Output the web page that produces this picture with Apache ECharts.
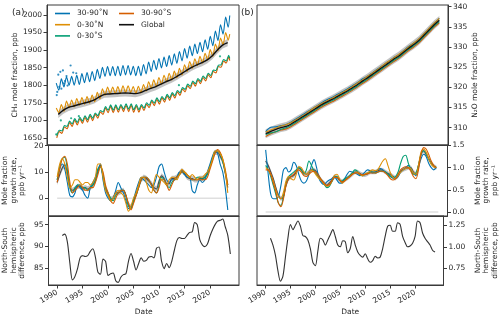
<!DOCTYPE html>
<html><head><meta charset="utf-8">
<script src="https://cdn.jsdelivr.net/npm/echarts@6/dist/echarts.min.js"></script>
<style>html,body{margin:0;padding:0;background:#fff}#c{width:500px;height:319px}</style>
</head><body><div id="c"></div>
<script>
// ---------------- DATA ----------------
const seriesNames = ['30-90˚N', '0-30˚N', '0-30˚S', '30-90˚S', 'Global'];
const xTickLabels = [1990, 1995, 2000, 2005, 2010, 2015, 2020];
const ch4Ticks = [1650, 1700, 1750, 1800, 1850, 1900, 1950, 2000];
const n2oTicks = [310, 315, 320, 325, 330, 335, 340];
const ch4GrTicks = [0, 10, 20];
const n2oGrTicks = [0, 0.5, 1.0, 1.5];
const ch4NsTicks = [85, 90, 95];
const n2oNsTicks = [0.75, 1.0, 1.25];

// CH4 mole fraction: yearly seasonal maxima / minima, 1990..2023
const ch4Years = [1990,1991,1992,1993,1994,1995,1996,1997,1998,1999,2000,2001,2002,2003,2004,2005,2006,2007,2008,2009,2010,2011,2012,2013,2014,2015,2016,2017,2018,2019,2020,2021,2022,2023];
const ch4_N_hi = [1806,1818,1824,1825,1828,1833,1836,1839,1845,1851,1853,1853,1854,1856,1856,1854,1854,1859,1866,1871,1876,1880,1884,1889,1896,1904,1911,1917,1922,1929,1939,1954,1972,1994];
const ch4_N_lo = [1786,1795,1800,1800,1802,1807,1810,1813,1819,1825,1827,1827,1827,1829,1829,1827,1827,1832,1839,1844,1849,1853,1857,1862,1869,1877,1884,1890,1895,1902,1912,1927,1945,1965];
const ch4_NT_hi = [1735,1745,1755,1758,1762,1765,1768,1772,1780,1790,1795,1795,1796,1798,1798,1796,1797,1802,1810,1815,1822,1828,1834,1840,1848,1858,1867,1875,1882,1891,1901,1917,1934,1950];
const ch4_NT_lo = [1722,1726,1736,1739,1743,1746,1749,1753,1761,1771,1776,1776,1777,1779,1779,1777,1778,1783,1791,1796,1803,1809,1815,1821,1829,1839,1848,1856,1863,1872,1882,1898,1915,1928];
const ch4_ST_lo = [1657,1670,1683,1690,1694,1698,1702,1706,1713,1724,1729,1729,1730,1732,1732,1730,1730,1735,1743,1749,1753,1759,1764,1770,1778,1788,1797,1804,1811,1819,1828,1842,1858,1869];
const ch4_ST_hi = [1672,1685,1698,1705,1709,1713,1717,1721,1728,1739,1744,1744,1745,1747,1747,1745,1745,1750,1758,1764,1768,1774,1779,1785,1793,1803,1812,1819,1826,1834,1843,1857,1873,1885];
const ch4_S_lo = [1650,1663,1676,1683,1687,1691,1695,1699,1706,1717,1722,1722,1723,1725,1725,1723,1723,1728,1736,1742,1746,1752,1757,1763,1771,1781,1790,1797,1804,1812,1821,1835,1851,1863];
const ch4_S_hi = [1668,1681,1694,1701,1705,1709,1713,1717,1724,1735,1740,1740,1741,1743,1743,1741,1741,1746,1754,1760,1764,1770,1775,1781,1789,1799,1808,1815,1822,1830,1839,1853,1869,1881];
const ch4_end = {N: 1998, NT: 1945, ST: 1876, S: 1870};
// CH4 global (mid-year values)
const ch4_glob = [1717,1729,1737,1741,1745,1749,1753,1758,1767,1774,1775,1776,1777,1778,1777,1776,1779,1785,1791,1796,1803,1810,1816,1824,1833,1842,1851,1858,1864,1872,1884,1900,1914,1921];
const ch4_glob_unc = 10;
// scattered CH4 observations
const ch4_obs_N = [[1990.2,1772],[1990.3,1781],[1990.5,1830],[1990.7,1795],[1990.9,1838],[1991.1,1790],[1991.4,1842],[1991.6,1805],[1991.8,1812],[1992.1,1826],[1992.3,1799],[1992.9,1856],[1993.4,1836],[1994.0,1834]];
const ch4_obs_ST = [[1990.1,1660],[1991.0,1700],[1993.0,1706],[1994.5,1712],[2014.0,1800],[2022.0,1882]];

// N2O mole fraction, yearly 1990..2024
const n2oYears = [1990,1991,1992,1993,1994,1995,1996,1997,1998,1999,2000,2001,2002,2003,2004,2005,2006,2007,2008,2009,2010,2011,2012,2013,2014,2015,2016,2017,2018,2019,2020,2021,2022,2023,2024];
const n2o_glob = [308.5,309.1,309.6,310.0,310.3,310.9,311.7,312.5,313.3,314.1,314.9,315.7,316.4,317.0,317.7,318.4,319.1,319.9,320.7,321.6,322.4,323.3,324.2,325.1,326.0,326.9,327.7,328.7,329.7,330.6,331.6,332.9,334.2,335.5,336.6];
const n2o_N = [309.0,310.1,310.2,310.5,310.8,311.4,312.2,313.0,313.8,314.6,315.4,316.2,316.9,317.5,318.2,318.9,319.6,320.4,321.2,322.1,322.8,323.7,324.6,325.5,326.4,327.3,328.1,329.1,330.1,331.0,332.0,333.3,334.6,335.9,337.1];
const n2o_NT = [308.9,309.4,309.9,310.4,310.7,311.3,312.0,312.8,313.6,314.5,315.3,316.0,316.7,317.3,318.0,318.7,319.4,320.2,321.1,321.9,322.8,323.6,324.5,325.5,326.4,327.2,328.1,329.0,330.0,331.0,332.0,333.3,334.6,335.9,337.1];
const n2o_ST = [308.3,308.7,309.0,309.6,310.0,310.6,311.4,312.2,313.0,313.8,314.6,315.4,316.1,316.7,317.4,318.1,318.8,319.6,320.4,321.3,322.1,323.0,323.9,324.8,325.7,326.6,327.4,328.4,329.4,330.3,331.3,332.6,333.9,335.2,336.3];
const n2o_S = [307.8,308.5,309.0,309.4,309.7,310.3,311.1,311.9,312.7,313.5,314.3,315.1,315.8,316.4,317.1,317.8,318.5,319.3,320.1,321.0,321.8,322.7,323.6,324.5,325.4,326.3,327.1,328.1,329.1,330.0,331.0,332.3,333.6,334.9,336.0];
const n2o_glob_unc = 1.1;

// Growth rates, half-yearly from 1990.0 to 2023.5
const grStart = 1990.0, grStep = 0.5;
const ch4gr_glob = [6.0,9.0,11.5,12.7,9.5,4.0,3.0,3.5,4.5,4.5, 3.5,4.0,3.5,4.0,5.0,6.5,10.0,12.5,8.5,3.5, 1.5,-0.5,0.0,2.0,2.0,2.5,3.0,1.0,-2.5,-3.5, -1.0,1.5,4.5,7.0,8.0,7.5,6.5,5.5,4.0,3.5, 6.5,8.5,7.5,5.5,5.5,7.5,7.5,8.0,9.5,10.5, 9.5,8.0,7.5,7.5,7.0,7.0,7.5,7.5,8.0,9.5, 12.0,15.0,17.5,17.5,16.0,14.0,9.5,4.0];
const ch4gr_N = [7,11,13,11,6,1,0.5,2,5,4, 3,1,0,4,6,8,11,13,7,2, 0,-1,0,3,6,4,2,-1,-4,-3.5, -0.5,3,6,8,7,6,5,4,5,8, 12,13,10,7,6,7,7,8,10,10, 9,8,8,3,2,5,7,6,7,10, 13,16,18,17,13,10,4,-4.5];
const ch4gr_NT = [8,13,15,13,8,4,5,7,7,6, 5,6,6,5,6,8,13,13,8,3, 1,-1,0,2,3,2,1,-2,-5,-3, 0,2,5,8,8,6,3,2,6,9, 8,7,6,5,7,8,8,7,9,11, 10,9,8,9,8,7,8,8,9,10, 12,15,18,18,17,15,10,2];
const ch4gr_ST = [7,12,15,15.5,11,4,2,4,5,5, 4,4,3,4,5,7,11,12,9,4, 2,0,-1,1,2,3,3,1,-3,-4, -1,1,4,7,8,8,7,5,3,2, 5,8,7,5,4,6,7,8,9,10, 10,9,8,7,7,8,8,7,8,9, 12,15,17.5,18,17,14,10,5];
const ch4gr_S = [6,11,15,16,13,6,2,3,4,5, 4,3,3,4,4,6,9,12,10,5, 2,-1,-2,0,2,3,3,1,-2,-4.5, -2,1,4,7,8,8,7,5,3,2, 4,7,7,5,3,5,7,8,9,10, 10,9,8,7,7,7,7,7,7,8, 11,14,17,18.5,17.5,15,11,5];
const ch4gr_unc = 1.0;
const n2ogr_glob = [1.15,1.05,0.9,0.75,0.55,0.38,0.3,0.35,0.6,0.75, 0.8,0.82,0.9,1.0,0.95,0.88,0.85,0.9,0.95,0.95, 0.9,0.8,0.7,0.65,0.6,0.65,0.72,0.8,0.78,0.72, 0.68,0.72,0.76,0.8,0.85,0.9,0.9,0.87,0.84,0.84, 0.86,0.9,0.9,0.9,0.93,0.95,0.94,0.9,0.87,0.84, 0.8,0.76,0.82,0.92,0.96,0.98,1.0,1.0,0.9,0.85, 1.05,1.3,1.38,1.3,1.2,1.1,1.03,1.0];
const n2ogr_N = [1.4,0.85,0.4,0.3,0.3,0.35,0.6,0.95,1.0,0.9, 0.95,1.12,1.05,0.85,0.7,0.65,0.7,0.85,1.05,1.18, 1.0,0.75,0.65,0.62,0.68,0.72,0.75,0.8,0.72,0.65, 0.66,0.75,0.85,0.92,0.9,0.88,0.85,0.82,0.85,0.9, 0.95,0.93,0.88,0.9,0.95,0.98,0.95,0.9,0.85,0.8, 0.76,0.75,0.8,0.9,0.95,1.0,1.05,0.98,0.88,0.82, 1.0,1.2,1.3,1.25,1.1,1.0,0.95,1.0];
const n2ogr_NT = [1.0,0.95,0.85,0.7,0.5,0.35,0.3,0.45,0.7,0.8, 0.75,0.72,0.85,1.02,1.0,0.9,0.85,0.9,0.95,0.9, 0.82,0.75,0.7,0.62,0.58,0.6,0.7,0.82,0.85,0.75, 0.65,0.7,0.75,0.8,0.85,0.88,0.9,0.85,0.82,0.85, 0.88,0.92,0.95,0.93,0.95,1.05,1.15,1.2,1.05,0.88, 0.78,0.75,0.82,0.9,0.95,0.98,1.0,0.98,0.88,0.85, 1.05,1.35,1.42,1.35,1.2,1.08,1.02,1.0];
const n2ogr_ST = [1.05,0.95,0.8,0.6,0.4,0.2,0.15,0.35,0.65,0.8, 0.85,0.9,0.95,1.0,0.95,0.85,0.95,1.15,1.05,0.92, 0.85,0.78,0.72,0.62,0.55,0.58,0.68,0.78,0.8,0.72, 0.7,0.75,0.78,0.82,0.88,0.95,0.92,0.85,0.82,0.85, 0.88,0.9,0.9,0.88,0.9,0.92,0.92,0.9,0.85,0.8, 0.78,0.8,0.9,1.1,1.25,1.28,1.1,0.95,0.85,0.88, 1.05,1.3,1.38,1.32,1.2,1.1,1.03,1.02];
const n2ogr_S = [0.95,0.95,0.85,0.65,0.45,0.2,0.12,0.3,0.6,0.75, 0.8,0.85,0.92,0.95,0.9,0.82,0.8,0.85,0.9,0.92, 0.88,0.8,0.72,0.65,0.6,0.62,0.7,0.78,0.78,0.72, 0.68,0.7,0.75,0.8,0.85,0.88,0.88,0.85,0.84,0.85, 0.86,0.88,0.88,0.88,0.9,0.92,0.92,0.88,0.82,0.75, 0.72,0.75,0.85,0.95,1.0,1.02,1.0,0.92,0.8,0.75, 0.95,1.3,1.45,1.42,1.3,1.15,1.05,1.0];
const n2ogr_unc = 0.05;

// North-South differences, half-yearly from 1991.0 to 2024.0
const nsStart = 1991.0, nsStep = 0.5;
const ch4_ns = [92.5,92.8,91.0,86.0,82.2,83.0,84.8,87.3,87.8,87.6, 87.8,88.8,89.4,87.5,84.0,83.5,87.0,86.5,83.2,83.6, 83.8,82.0,81.6,82.8,83.4,83.6,86.5,88.3,86.5,84.5, 86.0,87.3,86.5,86.7,87.5,87.6,87.3,89.5,89.8,86.5, 84.8,86.0,85.0,86.5,89.0,91.3,92.0,91.8,91.8,92.5, 93.2,93.3,95.5,95.0,91.5,90.3,89.9,90.5,92.3,93.8, 95.0,95.8,96.0,96.3,94.5,92.5,88.2];
const n2o_ns = [1.10,1.02,0.90,0.72,0.60,0.66,0.88,1.10,1.26,1.20, 1.25,1.30,1.24,1.13,1.12,1.08,0.98,0.82,0.78,0.95, 1.10,1.08,1.02,1.08,1.14,1.20,1.12,1.02,1.00,1.07, 1.06,0.93,0.98,1.12,1.02,0.94,0.90,0.88,0.92,0.86, 0.82,0.84,0.89,0.87,0.88,0.98,1.12,1.24,1.25,1.18, 1.18,1.28,1.26,1.12,1.05,1.00,1.01,1.04,1.12,1.30, 1.28,1.16,1.10,1.06,1.02,0.96,0.94];
const zeroLineX = [1990.0, 2023.9];

// ---------------- BUILD ----------------
const C = {N: '#0173B2', NT: '#DE8F05', ST: '#029E73', S: '#D55E00', G: '#111111'};
const FONT = 'DejaVu Sans', TXT = '#262626', AX = '#3a3a3a', FS = 7.5;
const X_MIN = 1988.3, X_MAX = 2025.7;

function halfYear(start, step, vals) { return vals.map((v, i) => [start + i * step, v]); }
function seasonal(years, first, second, o1, o2, endVal) {
  const out = [];
  years.forEach((y, i) => { out.push([y + o1, first[i]]); out.push([y + o2, second[i]]); });
  out.push([2023.9, endVal]);
  return out;
}
function pairs(xs, vals, off) { return vals.map((v, i) => [xs[i] + (off || 0), v]); }
function bandData(pts, unc) { return pts.map(p => [p[0], p[1] - unc, p[1] + unc]); }

const grids = [
  {left: 47, top: 5, width: 192, height: 140},
  {left: 47, top: 145, width: 192, height: 71},
  {left: 47, top: 216, width: 192, height: 69},
  {left: 257, top: 5, width: 191, height: 140},
  {left: 257, top: 145, width: 191, height: 71},
  {left: 257, top: 216, width: 191, height: 69}
].map(g => Object.assign(g, {show: true, borderColor: AX, borderWidth: 1, backgroundColor: 'transparent'}));

const xAxes = grids.map((g, i) => {
  const bottom = (i === 2 || i === 5);
  return {
    type: 'value', gridIndex: i, min: X_MIN, max: X_MAX,
    axisLine: {show: true, onZero: false, lineStyle: {color: AX, width: 1}},
    splitLine: {show: false},
    axisTick: {show: bottom, length: 3.5, lineStyle: {color: AX}, customValues: xTickLabels},
    axisLabel: {show: bottom, rotate: 30, margin: 7, fontFamily: FONT, fontSize: FS, color: TXT,
      customValues: xTickLabels, formatter: v => String(Math.round(v))},
    name: bottom ? 'Date' : '', nameLocation: 'middle', nameGap: 23,
    nameTextStyle: {fontFamily: FONT, fontSize: FS, color: TXT}
  };
});

function yAx(i, min, max, ticks, fmt, name, gap, right) {
  return {
    type: 'value', gridIndex: i, min: min, max: max, position: right ? 'right' : 'left',
    axisLine: {show: true, onZero: false, lineStyle: {color: AX, width: 1}},
    splitLine: {show: false},
    axisTick: {show: true, length: 3.5, lineStyle: {color: AX}, customValues: ticks},
    axisLabel: {show: true, margin: 5, fontFamily: FONT, fontSize: FS, color: TXT, customValues: ticks, formatter: fmt},
    name: name, nameLocation: 'middle', nameGap: gap, nameRotate: 90,
    nameTextStyle: {fontFamily: FONT, fontSize: FS, color: TXT, lineHeight: 8.5, align: 'center'}
  };
}
const f0 = v => String(Math.round(v));
const f1 = v => v.toFixed(1);
const f2 = v => v.toFixed(2);
const yAxes = [
  yAx(0, 1630, 2028, ch4Ticks, f0, 'CH₄ mole fraction, ppb', 27, false),
  yAx(1, -6.8, 20.27, ch4GrTicks, f0, 'Mole fraction\ngrowth rate,\nppb yr⁻¹', 22, false),
  yAx(2, 81.0, 97.0, ch4NsTicks, f0, 'North-South\nhemispheric\ndifference, ppb', 22, false),
  yAx(3, 305.7, 340.4, n2oTicks, f0, 'N₂O mole fraction, ppb', 19, true),
  yAx(4, -0.09, 1.51, n2oGrTicks, f1, 'Mole fraction\ngrowth rate,\nppb yr⁻¹', 26, true),
  yAx(5, 0.556, 1.358, n2oNsTicks, f2, 'North-South\nhemispheric\ndifference, ppb', 30, true)
];

function band(idx, pts, unc, z) {
  return {
    type: 'custom', name: 'band' + idx, xAxisIndex: idx, yAxisIndex: idx, z: z || 1,
    silent: true, data: bandData(pts, unc), encode: {x: 0, y: [1, 2]},
    renderItem: function (params, api) {
      if (params.dataIndexInside !== 0) return null;
      const n = params.dataInsideLength, up = [], dn = [];
      for (let k = 0; k < n; k++) {
        up.push(api.coord([api.value(0, k), api.value(2, k)]));
        dn.push(api.coord([api.value(0, k), api.value(1, k)]));
      }
      return {type: 'polygon', shape: {points: up.concat(dn.reverse())}, style: {fill: '#bdbdbd', opacity: 0.9}};
    }
  };
}
function line(idx, name, color, data, w, z, smooth) {
  return {type: 'line', name: name, xAxisIndex: idx, yAxisIndex: idx, data: data, showSymbol: false, symbol: 'none',
    smooth: smooth === undefined ? 0.3 : smooth, lineStyle: {color: color, width: w || 1.1}, itemStyle: {color: color}, z: z || 3};
}
function scatter(idx, name, color, data) {
  return {type: 'scatter', name: name, xAxisIndex: idx, yAxisIndex: idx, data: data, symbolSize: 2.2,
    itemStyle: {color: color}, z: 3, silent: true};
}

const ch4GlobPts = pairs(ch4Years, ch4_glob, 0.5);
const n2oGlobPts = pairs(n2oYears, n2o_glob, 0);
const ch4GrGlobPts = halfYear(grStart, grStep, ch4gr_glob);
const n2oGrGlobPts = halfYear(grStart, grStep, n2ogr_glob);
const zero = zeroLineX.map(x => [x, 0]);

const series = [
  band(0, ch4GlobPts, ch4_glob_unc, 1),
  line(0, seriesNames[3], C.S, seasonal(ch4Years, ch4_S_lo, ch4_S_hi, 0.2, 0.7, ch4_end.S), 1.1, 3, 0.25),
  line(0, seriesNames[2], C.ST, seasonal(ch4Years, ch4_ST_lo, ch4_ST_hi, 0.2, 0.7, ch4_end.ST), 1.1, 3, 0.25),
  line(0, seriesNames[1], C.NT, seasonal(ch4Years, ch4_NT_hi, ch4_NT_lo, 0.1, 0.6, ch4_end.NT), 1.1, 3, 0.25),
  line(0, seriesNames[0], C.N, seasonal(ch4Years, ch4_N_hi, ch4_N_lo, 0.1, 0.6, ch4_end.N), 1.1, 3, 0.25),
  scatter(0, 'obsN', C.N, ch4_obs_N),
  scatter(0, 'obsST', C.ST, ch4_obs_ST),
  line(0, seriesNames[4], C.G, ch4GlobPts, 1.4, 5),
  line(1, 'zero1', '#cfcfcf', zero, 1, 1, false),
  band(1, ch4GrGlobPts, ch4gr_unc, 2),
  line(1, 'g1', '#4a4a4a', ch4GrGlobPts, 1.1, 3),
  line(1, seriesNames[0], C.N, halfYear(grStart, grStep, ch4gr_N), 1.1, 4),
  line(1, seriesNames[2], C.ST, halfYear(grStart, grStep, ch4gr_ST), 1.1, 4),
  line(1, seriesNames[3], C.S, halfYear(grStart, grStep, ch4gr_S), 1.1, 4),
  line(1, seriesNames[1], C.NT, halfYear(grStart, grStep, ch4gr_NT), 1.1, 4),
  line(2, 'ns1', '#333333', halfYear(nsStart, nsStep, ch4_ns), 1.1, 3),
  band(3, n2oGlobPts, n2o_glob_unc, 1),
  line(3, seriesNames[3], C.S, pairs(n2oYears, n2o_S), 1.1, 3),
  line(3, seriesNames[2], C.ST, pairs(n2oYears, n2o_ST), 1.1, 3),
  line(3, seriesNames[0], C.N, pairs(n2oYears, n2o_N), 1.1, 3),
  line(3, seriesNames[1], C.NT, pairs(n2oYears, n2o_NT), 1.1, 3),
  line(3, seriesNames[4], C.G, n2oGlobPts, 1.3, 5),
  line(4, 'zero4', '#cfcfcf', zero, 1, 1, false),
  band(4, n2oGrGlobPts, n2ogr_unc, 2),
  line(4, 'g4', '#4a4a4a', n2oGrGlobPts, 1.1, 3),
  line(4, seriesNames[0], C.N, halfYear(grStart, grStep, n2ogr_N), 1.1, 4),
  line(4, seriesNames[2], C.ST, halfYear(grStart, grStep, n2ogr_ST), 1.1, 4),
  line(4, seriesNames[1], C.NT, halfYear(grStart, grStep, n2ogr_NT), 1.1, 4),
  line(4, seriesNames[3], C.S, halfYear(grStart, grStep, n2ogr_S), 1.1, 4),
  line(5, 'ns5', '#333333', halfYear(nsStart, nsStep, n2o_ns), 1.1, 3)
];

const legendBase = {orient: 'vertical', icon: 'rect', itemWidth: 15, itemHeight: 1.6, itemGap: 3.2,
  selectedMode: false, textStyle: {fontFamily: FONT, fontSize: FS, color: TXT, padding: [0, 0, 0, 2]}, padding: 0};

const option = {
  animation: false,
  backgroundColor: '#ffffff',
  grid: grids, xAxis: xAxes, yAxis: yAxes, series: series,
  legend: [
    Object.assign({}, legendBase, {left: 55, top: 9.5, data: [seriesNames[0], seriesNames[1], seriesNames[2]]}),
    Object.assign({}, legendBase, {left: 119, top: 9.5, data: [seriesNames[3], seriesNames[4]]})
  ],
  graphic: [
    {type: 'text', left: 12, top: 8, style: {text: '(a)', font: '9px "DejaVu Sans"', fill: TXT}},
    {type: 'text', left: 241, top: 8, style: {text: '(b)', font: '9px "DejaVu Sans"', fill: TXT}}
  ]
};
const chart = echarts.init(document.getElementById('c'), null, {renderer: 'canvas'});
chart.setOption(option);
</script></body></html>
